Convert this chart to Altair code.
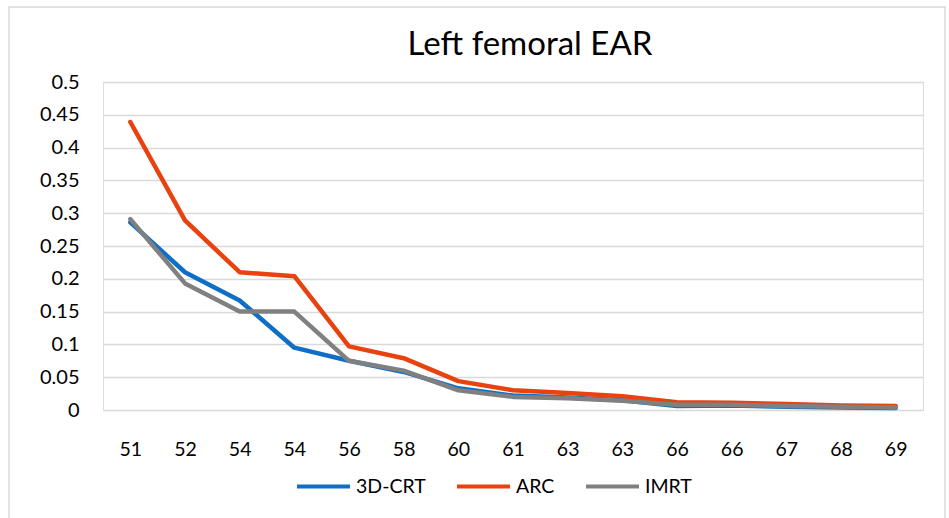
import altair as alt
import pandas as pd

x_labels = ["51", "52", "54", "54", "56", "58", "60", "61", "63", "63", "66", "66", "67", "68", "69"]
crt = [0.286, 0.21, 0.167, 0.095, 0.075, 0.058, 0.033, 0.022, 0.019, 0.015, 0.006, 0.007, 0.005, 0.004, 0.003]
arc = [0.439, 0.289, 0.21, 0.204, 0.097, 0.079, 0.044, 0.030, 0.026, 0.021, 0.012, 0.011, 0.009, 0.007, 0.006]
imrt = [0.291, 0.193, 0.15, 0.15, 0.075, 0.060, 0.030, 0.020, 0.018, 0.014, 0.008, 0.008, 0.006, 0.005, 0.004]
series = ["3D-CRT", "ARC", "IMRT"]
colors = ["#0F6FC6", "#E8420E", "#808080"]

rows = []
for name, vals in zip(series, [crt, arc, imrt]):
    for i, v in enumerate(vals):
        rows.append({"idx": i, "series": name, "value": v})
df = pd.DataFrame(rows)

label_expr = "[" + ",".join("'%s'" % l for l in x_labels) + "][datum.value]"
FONT = "Lato"

frame = alt.Chart(pd.DataFrame({"a": [0]})).mark_rect(
    fillOpacity=0, stroke="#D9D9D9", strokeWidth=1.5
).encode(
    x=alt.value(-94), x2=alt.value(842), y=alt.value(-75), y2=alt.value(450)
)

lines = alt.Chart(df).mark_line(strokeWidth=4.5, strokeJoin="round", strokeCap="round").encode(
    x=alt.X("idx:O", scale=alt.Scale(type="point", padding=0.5),
            axis=alt.Axis(title=None, labelExpr=label_expr, labelAngle=0, ticks=False,
                          domain=False, labelPadding=30, labelFontSize=19.5, labelFont=FONT,
                          labelColor="#000000", grid=False)),
    y=alt.Y("value:Q", scale=alt.Scale(domain=[0, 0.5], nice=False),
            axis=alt.Axis(title=None, values=[i * 0.05 for i in range(11)], format=".2~f",
                          ticks=False, domain=False, labelPadding=24, labelFontSize=20,
                          labelFont=FONT, labelColor="#000000", gridColor="#D9D9D9",
                          gridWidth=1.5)),
    color=alt.Color("series:N", scale=alt.Scale(domain=series, range=colors),
                    legend=alt.Legend(title=None, orient="none", direction="horizontal",
                                      legendX=192, legendY=376, symbolType="stroke",
                                      symbolSize=2809, symbolStrokeWidth=4,
                                      labelFontSize=19.5, labelFont=FONT, labelColor="#000000",
                                      labelOffset=4, columnPadding=23)),
    order="idx:O",
)

chart = alt.layer(frame, lines).properties(
    width=820, height=328,
    padding={"left": 103, "top": 82, "right": 26, "bottom": 108},
    autosize=alt.AutoSizeParams(type="none"),
    title=alt.TitleParams("Left femoral EAR", fontSize=33, font=FONT, fontWeight="normal",
                          color="#000000", anchor="middle", frame="group", dx=17, offset=-56),
).configure_view(stroke=None).configure(background="white")

chart.save("out.html", embed_options={"renderer": "svg", "actions": False})
